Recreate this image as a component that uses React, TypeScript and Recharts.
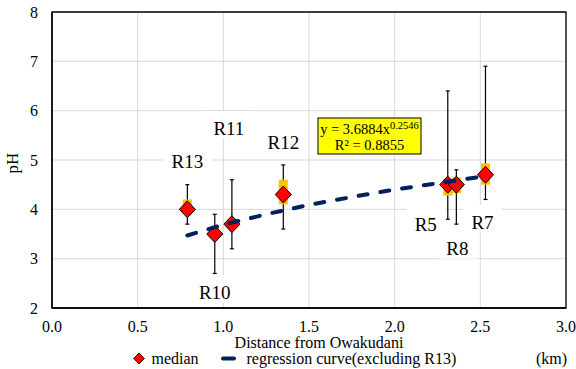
import React from 'react'
import { ScatterChart, Scatter, XAxis, YAxis, CartesianGrid, ErrorBar, ReferenceArea } from 'recharts'

// pH per site vs distance from Owakudani: median, min/max whiskers, quartile box.
const sites = ['R13', 'R10', 'R11', 'R12', 'R5', 'R8', 'R7']
const distanceKm = [0.79, 0.95, 1.05, 1.35, 2.31, 2.36, 2.53]
const medianPH = [4.0, 3.5, 3.7, 4.3, 4.5, 4.5, 4.7]
const minPH = [3.7, 2.7, 3.2, 3.6, 3.8, 3.7, 4.2]
const maxPH = [4.5, 3.9, 4.6, 4.9, 6.4, 4.8, 6.9]
const q1PH = [3.95, 3.45, 3.6, 4.1, 4.28, 4.33, 4.5]
const q3PH = [4.2, 3.65, 3.8, 4.6, 4.62, 4.65, 4.93]

// regression curve (excluding R13)
const curveX = [0.79, 1.0, 1.25, 1.5, 1.75, 2.0, 2.25, 2.54]
const curveY = [3.47, 3.69, 3.9, 4.09, 4.25, 4.4, 4.53, 4.68]

const xTicks = [0, 0.5, 1, 1.5, 2, 2.5, 3]
const yTicks = [2, 3, 4, 5, 6, 7, 8]

// where each site label sits relative to its marker (px)
const labelOffset: Record<string, [number, number]> = {
  R13: [0, -48],
  R10: [0, 58],
  R11: [-3, -96],
  R12: [0, -53],
  R5: [-22, 39],
  R8: [1, 63],
  R7: [-3, 47],
}

const points = sites.map((site, i) => ({
  site,
  x: distanceKm[i],
  y: medianPH[i],
  whisker: [medianPH[i] - minPH[i], maxPH[i] - medianPH[i]],
  box: [medianPH[i] - q1PH[i], q3PH[i] - medianPH[i]],
}))
const curve = curveX.map((x, i) => ({ x, y: curveY[i] }))

const FONT = 'Liberation Serif'
const NAVY = '#002060'

const Diamond = (props: any) => {
  const { cx, cy } = props
  if (cx == null || cy == null) return <g />
  return (
    <polygon
      points={`${cx},${cy - 8.5} ${cx + 8},${cy} ${cx},${cy + 8.5} ${cx - 8},${cy}`}
      fill="#FF0000"
      stroke="#000"
      strokeWidth={1}
    />
  )
}

const SiteLabel = (props: any) => {
  const { cx, cy, payload } = props
  if (cx == null || cy == null) return <g />
  const [dx, dy] = labelOffset[payload.site] || [0, -40]
  const x = cx + dx
  const y = cy + dy
  const w = payload.site.length * 11 + 16
  return (
    <g>
      <rect x={x - w / 2} y={y - 17} width={w} height={28} fill="#fff" />
      <text x={x} y={y + 7} textAnchor="middle" fontFamily={FONT} fontSize={19} fill="#000">
        {payload.site}
      </text>
    </g>
  )
}

export default function App() {
  return (
    <div style={{ position: 'fixed', left: 0, top: 0, width: 576, height: 369, background: '#fff', fontFamily: FONT }}>
      <ScatterChart width={576} height={369} margin={{ top: 12, right: 10, bottom: 31, left: 0 }}>
        <CartesianGrid stroke="#D9D9D9" strokeWidth={1} />
        <XAxis
          type="number"
          dataKey="x"
          domain={[0, 3]}
          ticks={xTicks}
          tickFormatter={(v: number) => v.toFixed(1)}
          height={30}
          tickLine={false}
          tickSize={0}
          tickMargin={13}
          axisLine={{ stroke: '#000', strokeWidth: 1.3 }}
          tick={{ fill: '#000', fontSize: 16, fontFamily: FONT }}
          allowDataOverflow
        />
        <YAxis
          type="number"
          dataKey="y"
          domain={[2, 8]}
          ticks={yTicks}
          width={52}
          tickLine={false}
          tickSize={0}
          tickMargin={14}
          axisLine={{ stroke: '#000', strokeWidth: 1.3 }}
          tick={{ fill: '#000', fontSize: 16, fontFamily: FONT }}
          allowDataOverflow
        />
        <ReferenceArea x1={0} x2={3} y1={2} y2={8} fill="none" stroke="#000" strokeWidth={1.3} />
        <Scatter data={points} shape={SiteLabel} isAnimationActive={false} />
        <Scatter data={points} shape={Diamond} isAnimationActive={false}>
          <ErrorBar dataKey="whisker" direction="y" width={2} stroke="#000" strokeWidth={1.2} isAnimationActive={false} />
          <ErrorBar dataKey="box" direction="y" width={0} stroke="#FFC000" strokeWidth={9} isAnimationActive={false} />
        </Scatter>
        <Scatter
          data={curve}
          line={{ stroke: NAVY, strokeWidth: 4, strokeDasharray: '9 13', strokeLinecap: 'round' }}
          shape={() => <g />}
          isAnimationActive={false}
        />

        {/* equation box */}
        <g>
          <rect x={318} y={118} width={103} height={36} fill="#FFFF00" stroke="#000" strokeWidth={1} />
          <text x={369.5} y={134} textAnchor="middle" fontFamily={FONT} fontSize={14.5} fill="#000">
            y = 3.6884x
            <tspan dy={-5} fontSize={10.5}>0.2546</tspan>
          </text>
          <text x={369.5} y={150} textAnchor="middle" fontFamily={FONT} fontSize={14.5} fill="#000">
            R² = 0.8855
          </text>
        </g>

        {/* axis titles */}
        <text x={18} y={163} transform="rotate(-90, 18, 163)" textAnchor="middle" fontFamily={FONT} fontSize={17} fill="#000">
          pH
        </text>
        <text x={319} y={348} textAnchor="middle" fontFamily={FONT} fontSize={16} fill="#000">
          Distance from Owakudani
        </text>

        {/* legend */}
        <g fontFamily={FONT} fontSize={16} fill="#000">
          <polygon points="139,353 144.5,358.5 139,364 133.5,358.5" fill="#FF0000" stroke="#000" strokeWidth={0.8} />
          <text x={151.5} y={364}>median</text>
          <line x1={223} y1={358.5} x2={234} y2={358.5} stroke={NAVY} strokeWidth={4} strokeLinecap="round" />
          <text x={246.5} y={364}>regression curve(excluding R13)</text>
          <text x={536} y={364}>(km)</text>
        </g>
      </ScatterChart>
    </div>
  )
}
